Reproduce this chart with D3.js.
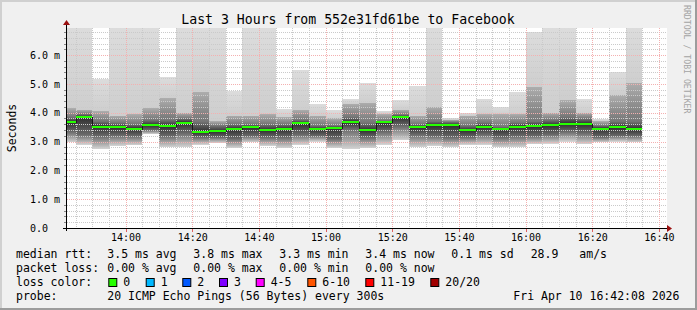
<!DOCTYPE html>
<html>
<head>
<meta charset="utf-8">
<script src="https://cdn.jsdelivr.net/npm/d3@7"></script>
<style>
body { margin: 0; background: #f0f0f0; }
text { font-family: 'DejaVu Sans Mono', monospace; fill: #000; }
</style>
</head>
<body>
<svg id="chart" width="697" height="310"></svg>
<script>
// 5 minute steps, start of each interval
var times = ['13:40', '13:45', '13:50', '13:55', '14:00', '14:05', '14:10', '14:15', '14:20', '14:25',
    '14:30', '14:35', '14:40', '14:45', '14:50', '14:55', '15:00', '15:05', '15:10', '15:15',
    '15:20', '15:25', '15:30', '15:35', '15:40', '15:45', '15:50', '15:55', '16:00', '16:05',
    '16:10', '16:15', '16:20', '16:25', '16:30'];

// values in ms
var medianRtt = [3.67, 3.85, 3.52, 3.49, 3.45, 3.57, 3.54, 3.66, 3.33, 3.35,
    3.43, 3.49, 3.39, 3.43, 3.63, 3.43, 3.47, 3.67, 3.39, 3.67,
    3.85, 3.49, 3.57, 3.57, 3.39, 3.51, 3.44, 3.52, 3.54, 3.57,
    3.62, 3.62, 3.45, 3.49, 3.43];
var pingMin = [2.97, 2.89, 2.74, 2.85, 2.87, 3.26, 2.80, 2.80, 2.89, 2.95,
    2.78, 2.97, 2.85, 2.78, 2.89, 3.00, 2.78, 2.74, 2.78, 2.89,
    3.04, 2.80, 2.85, 2.80, 2.89, 2.89, 2.80, 2.80, 2.91, 2.93,
    3.00, 2.91, 2.97, 3.00, 2.97];
var pingLowQ = [3.35, 3.25, 3.20, 3.22, 3.20, 3.40, 3.20, 3.30, 3.15, 3.15,
    3.10, 3.20, 3.15, 3.15, 3.25, 3.20, 3.10, 3.45, 3.15, 3.35,
    3.55, 3.25, 3.20, 3.15, 3.15, 3.25, 3.15, 3.20, 3.20, 3.25,
    3.35, 3.30, 3.15, 3.20, 3.20];
var pingHighQ = [3.85, 3.95, 3.70, 3.65, 3.60, 3.75, 3.75, 3.80, 3.70, 3.55,
    3.60, 3.60, 3.60, 3.60, 3.75, 3.55, 3.55, 3.85, 3.65, 3.72,
    3.93, 3.60, 3.70, 3.68, 3.55, 3.65, 3.50, 3.65, 3.70, 3.75,
    3.85, 3.80, 3.55, 3.70, 3.70];
var pingHigh2 = [4.15, 4.10, 4.05, 3.90, 3.95, 4.16, 4.50, 4.00, 4.72, 3.70,
    3.90, 3.90, 3.95, 3.85, 4.10, 3.90, 3.80, 4.30, 4.35, 3.95,
    4.10, 3.90, 4.20, 3.75, 3.90, 3.95, 3.95, 3.95, 4.90, 4.00,
    4.44, 4.00, 3.70, 4.60, 5.04];
var pingMax = [7.4, 7.6, 5.18, 7.3, 7.5, 7.2, 5.23, 8.1, 7.4, 7.1,
    4.76, 7.3, 7.2, 4.14, 5.48, 4.30, 4.09, 4.49, 5.04, 4.07,
    4.44, 4.93, 7.3, 3.82, 4.00, 4.49, 4.21, 4.72, 6.80, 7.2,
    7.4, 4.49, 3.79, 5.41, 7.1];

var yTicks = [0, 1, 2, 3, 4, 5, 6];
var lossLabels = ['0', '1', '2', '3', '4-5', '6-10', '11-19', '20/20'];
var lossColors = ['#26ff00', '#00b8ff', '#0059ff', '#7e00ff', '#ff00ff', '#ff5500', '#ff0000', '#a10000'];
var rttStats = ['3.5 ms avg', '3.8 ms max', '3.3 ms min', '3.4 ms now', '0.1 ms sd', '28.9', 'am/s'];
var lossStats = ['0.00 % avg', '0.00 % max', '0.00 % min', '0.00 % now'];

var svg = d3.select('#chart');
var W = 697, H = 310;

var parseTime = d3.timeParse('%H:%M:%S');
var x = d3.scaleTime()
    .domain([parseTime('13:42:26'), parseTime('16:42:26')])
    .range([67, 667])
    .clamp(true);
var y = d3.scaleLinear().domain([0, 6.94]).range([228, 28]).clamp(true);

var bars = times.map(function (t, i) {
    var s = parseTime(t + ':00');
    return {
        start: s, end: d3.timeMinute.offset(s, 5),
        med: medianRtt[i], lo: pingMin[i], lq: pingLowQ[i],
        hq: pingHighQ[i], h2: pingHigh2[i], max: pingMax[i]
    };
});

// frame
svg.append('rect').attr('width', W).attr('height', H).attr('fill', '#f0f0f0');
svg.append('path').attr('d', 'M0,310 L0,0 L697,0').attr('fill', 'none')
    .attr('stroke', '#d0d0d0').attr('stroke-width', 4);
svg.append('path').attr('d', 'M697,0 L697,310 L0,310').attr('fill', 'none')
    .attr('stroke', '#9c9c9c').attr('stroke-width', 4);

svg.append('rect').attr('x', 67).attr('y', 28).attr('width', 600).attr('height', 200).attr('fill', '#fff');

// smoke
var defs = svg.append('defs');
bars.forEach(function (d, i) {
    var top = y(d.max), bot = y(d.lo);
    var off = function (v) { return (y(v) - top) / (bot - top); };
    var g = defs.append('linearGradient').attr('id', 'smoke' + i)
        .attr('gradientUnits', 'userSpaceOnUse')
        .attr('x1', 0).attr('x2', 0).attr('y1', top).attr('y2', bot);
    [[0, '#dcdcdc'], [off(d.h2), '#cecece'], [off(d.h2), '#adadad'],
     [off(d.hq), '#767676'], [off(d.med), '#2e2e2e'], [off(d.lq), '#686868'],
     [1, '#d4d4d4']].forEach(function (s) {
        g.append('stop').attr('offset', s[0]).attr('stop-color', s[1]);
    });
});

svg.append('g').selectAll('rect')
    .data(bars)
    .join('rect')
    .attr('x', function (d) { return x(d.start); })
    .attr('width', function (d) { return x(d.end) - x(d.start); })
    .attr('y', function (d) { return y(d.max); })
    .attr('height', function (d) { return y(d.lo) - y(d.max); })
    .attr('fill', function (d, i) { return 'url(#smoke' + i + ')'; })
    .attr('shape-rendering', 'crispEdges');

// grid
var grid = svg.append('g').attr('shape-rendering', 'crispEdges');
var minorY = y.ticks(35).filter(function (v) { return v % 1 !== 0; });
var minorX = x.ticks(d3.timeMinute.every(5)).filter(function (t) { return t.getMinutes() % 20 !== 0; });
var majorX = x.ticks(d3.timeMinute.every(20));

grid.selectAll('.hmin').data(minorY).join('line')
    .attr('x1', 67).attr('x2', 667)
    .attr('y1', function (v) { return Math.round(y(v)) + 0.5; })
    .attr('y2', function (v) { return Math.round(y(v)) + 0.5; })
    .attr('stroke', '#cacaca').attr('stroke-dasharray', '1,1');
grid.selectAll('.vmin').data(minorX).join('line')
    .attr('y1', 28).attr('y2', 228)
    .attr('x1', function (t) { return Math.round(x(t)) + 0.5; })
    .attr('x2', function (t) { return Math.round(x(t)) + 0.5; })
    .attr('stroke', '#cacaca').attr('stroke-dasharray', '1,1');
grid.selectAll('.hmaj').data(yTicks.slice(1)).join('line')
    .attr('x1', 67).attr('x2', 667)
    .attr('y1', function (v) { return Math.round(y(v)) + 0.5; })
    .attr('y2', function (v) { return Math.round(y(v)) + 0.5; })
    .attr('stroke', '#f4b0b0').attr('stroke-dasharray', '1,1');
grid.selectAll('.vmaj').data(majorX).join('line')
    .attr('y1', 28).attr('y2', 228)
    .attr('x1', function (t) { return Math.round(x(t)) + 0.5; })
    .attr('x2', function (t) { return Math.round(x(t)) + 0.5; })
    .attr('stroke', '#f4b0b0').attr('stroke-dasharray', '1,1');

// median
var ry = function (v) { return Math.round(y(v)); };
var stepPts = bars.map(function (d) { return [Math.round(x(d.start)) + 0.5, ry(d.med) + 0.5]; });
stepPts.push([Math.round(x(bars[bars.length - 1].end)), ry(bars[bars.length - 1].med) + 0.5]);
svg.append('path')
    .attr('d', d3.line().curve(d3.curveStepAfter)(stepPts))
    .attr('fill', 'none').attr('stroke', '#1a1a1a').attr('stroke-width', 1)
    .attr('shape-rendering', 'crispEdges');
svg.append('g').attr('shape-rendering', 'crispEdges').selectAll('rect')
    .data(bars)
    .join('rect')
    .attr('x', function (d) { return Math.round(x(d.start)); })
    .attr('width', function (d) { return Math.round(x(d.end)) - Math.round(x(d.start)); })
    .attr('y', function (d) { return ry(d.med) - 1; })
    .attr('height', 2)
    .attr('fill', lossColors[0]);

// axes
var axisG = svg.append('g').attr('shape-rendering', 'crispEdges');
axisG.append('line').attr('x1', 63).attr('x2', 668).attr('y1', 228.5).attr('y2', 228.5).attr('stroke', '#000');
axisG.append('line').attr('x1', 66.5).attr('x2', 66.5).attr('y1', 231).attr('y2', 24).attr('stroke', '#000');
svg.append('path').attr('d', 'M667,225 L672,228.5 L667,232 Z').attr('fill', '#9a1010');
svg.append('path').attr('d', 'M63,25 L66.5,20 L70,25 Z').attr('fill', '#9a1010');

axisG.selectAll('.ty').data(minorY).join('line')
    .attr('x1', 64).attr('x2', 66)
    .attr('y1', function (v) { return Math.round(y(v)) + 0.5; })
    .attr('y2', function (v) { return Math.round(y(v)) + 0.5; })
    .attr('stroke', '#888');
axisG.selectAll('.tx').data(majorX).join('line')
    .attr('y1', 229).attr('y2', 232)
    .attr('x1', function (t) { return Math.round(x(t)) + 0.5; })
    .attr('x2', function (t) { return Math.round(x(t)) + 0.5; })
    .attr('stroke', '#e06060');

var xAxis = svg.append('g').attr('transform', 'translate(0,228)')
    .call(d3.axisBottom(x).ticks(d3.timeMinute.every(20)).tickFormat(d3.timeFormat('%H:%M')).tickSize(0).tickPadding(6));
xAxis.select('.domain').remove();
xAxis.selectAll('text').style('font-family', "'DejaVu Sans Mono', monospace").style('font-size', '10px').attr('fill', '#000');

var yAxis = svg.append('g').attr('transform', 'translate(67,0)')
    .call(d3.axisLeft(y).tickValues(yTicks).tickFormat(function (v) {
        return v === 0 ? '0.0' : v.toFixed(1) + ' m';
    }).tickSize(0));
yAxis.select('.domain').remove();
yAxis.selectAll('text').style('font-family', "'DejaVu Sans Mono', monospace").style('font-size', '10px')
    .attr('fill', '#000').attr('text-anchor', 'start').attr('x', -37);

// titles
svg.append('text').attr('x', 348).attr('y', 24).attr('text-anchor', 'middle')
    .style('font-size', '13.2px').text('Last 3 Hours from 552e31fd61be to Facebook');
svg.append('text').attr('transform', 'translate(15.5,128) rotate(-90)').attr('text-anchor', 'middle')
    .style('font-size', '11.5px').text('Seconds');
svg.append('text').attr('transform', 'translate(684,5) rotate(90)').attr('text-anchor', 'start')
    .style('font-size', '8.2px').style('fill', '#a4a4a4').text('RRDTOOL / TOBI OETIKER');

// legend
var fs = '11.5px';
function legendText(xp, yp, s) {
    svg.append('text').attr('x', xp).attr('y', yp).style('font-size', fs).attr('xml:space', 'preserve').text(s);
}
legendText(16, 258, 'median rtt:');
[107.3, 193.3, 279.3, 365.3, 451.3, 530.7, 579.3].forEach(function (xp, i) { legendText(xp, 258, rttStats[i]); });
legendText(16, 272, 'packet loss:');
[107.3, 193.3, 279.3, 365.3].forEach(function (xp, i) { legendText(xp, 272, lossStats[i]); });
legendText(16, 286, 'loss color:');
[108.3, 145.7, 182.3, 219, 255.7, 307.3, 365.3, 430.3].forEach(function (xp, i) {
    svg.append('rect').attr('x', xp + 0.5).attr('y', 278.5).attr('width', 8).attr('height', 8)
        .attr('fill', lossColors[i]).attr('stroke', '#000').attr('stroke-width', 1);
    legendText(xp + 15, 286, lossLabels[i]);
});
legendText(16, 300, 'probe:');
legendText(107.3, 300, '20 ICMP Echo Pings (56 Bytes) every 300s');
legendText(513.3, 300, 'Fri Apr 10 16:42:08 2026');
</script>
</body>
</html>
